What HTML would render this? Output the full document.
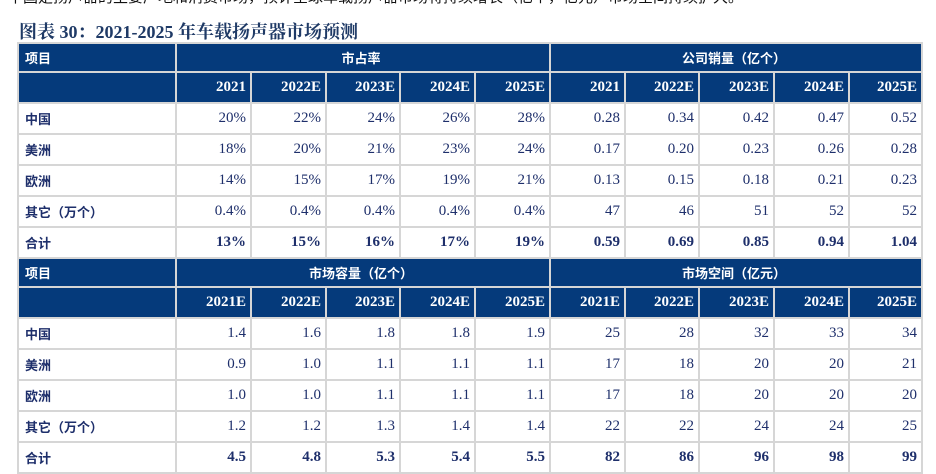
<!DOCTYPE html>
<html><head><meta charset="utf-8">
<style>
body{margin:0;width:936px;height:465px;overflow:hidden;background:#fff;position:relative;font-family:"Liberation Serif","Noto Serif CJK SC",serif;}
.top{position:absolute;left:8px;top:-14px;font-size:15px;color:#111;white-space:nowrap;font-family:"Liberation Sans","Noto Sans CJK SC",sans-serif;}
.title{position:absolute;left:19px;top:18px;font-size:18px;font-weight:bold;color:#1f3a66;white-space:nowrap;}
table{position:absolute;left:17px;top:42px;border-collapse:collapse;table-layout:fixed;}
td{border:2px solid #d6d6d6;padding:0 4px 0 0;text-align:right;font-size:15px;color:#1e2f6b;white-space:nowrap;overflow:hidden;}
tr{height:31px}
tr.h1{height:29px}
td.lab{text-align:left;padding-left:6px;font-family:"Liberation Sans","Noto Sans CJK SC",sans-serif;font-weight:bold;font-size:13px;}
tr.h1 td,tr.h2 td{background:#053a7b;color:#fff;font-weight:bold;}
tr.h1 td.c{text-align:center;font-family:"Liberation Sans","Noto Sans CJK SC",sans-serif;font-size:13px;}
tr.b td{font-weight:bold;}
</style></head><body>
<div class="top">中国是扬声器的主要产地和消费市场，预计全球车载扬声器市场将持续增长（亿个，亿元）市场空间持续扩大。</div>
<div class="title">图表 30：2021-2025 年车载扬声器市场预测</div>
<table>
<colgroup><col style="width:158px"><col style="width:75px"><col style="width:75px"><col style="width:74px"><col style="width:75px"><col style="width:75px"><col style="width:75px"><col style="width:74px"><col style="width:75px"><col style="width:75px"><col style="width:73px"></colgroup>
<tr class="h1"><td class="lab">项目</td><td class="c" colspan="5">市占率</td><td class="c" colspan="5">公司销量（亿个）</td></tr>
<tr class="h2"><td></td><td>2021</td><td>2022E</td><td>2023E</td><td>2024E</td><td>2025E</td><td>2021</td><td>2022E</td><td>2023E</td><td>2024E</td><td>2025E</td></tr>
<tr><td class="lab">中国</td><td>20%</td><td>22%</td><td>24%</td><td>26%</td><td>28%</td><td>0.28</td><td>0.34</td><td>0.42</td><td>0.47</td><td>0.52</td></tr>
<tr><td class="lab">美洲</td><td>18%</td><td>20%</td><td>21%</td><td>23%</td><td>24%</td><td>0.17</td><td>0.20</td><td>0.23</td><td>0.26</td><td>0.28</td></tr>
<tr><td class="lab">欧洲</td><td>14%</td><td>15%</td><td>17%</td><td>19%</td><td>21%</td><td>0.13</td><td>0.15</td><td>0.18</td><td>0.21</td><td>0.23</td></tr>
<tr><td class="lab">其它（万个）</td><td>0.4%</td><td>0.4%</td><td>0.4%</td><td>0.4%</td><td>0.4%</td><td>47</td><td>46</td><td>51</td><td>52</td><td>52</td></tr>
<tr class="b"><td class="lab">合计</td><td>13%</td><td>15%</td><td>16%</td><td>17%</td><td>19%</td><td>0.59</td><td>0.69</td><td>0.85</td><td>0.94</td><td>1.04</td></tr>
<tr class="h1"><td class="lab">项目</td><td class="c" colspan="5">市场容量（亿个）</td><td class="c" colspan="5">市场空间（亿元）</td></tr>
<tr class="h2"><td></td><td>2021E</td><td>2022E</td><td>2023E</td><td>2024E</td><td>2025E</td><td>2021E</td><td>2022E</td><td>2023E</td><td>2024E</td><td>2025E</td></tr>
<tr><td class="lab">中国</td><td>1.4</td><td>1.6</td><td>1.8</td><td>1.8</td><td>1.9</td><td>25</td><td>28</td><td>32</td><td>33</td><td>34</td></tr>
<tr><td class="lab">美洲</td><td>0.9</td><td>1.0</td><td>1.1</td><td>1.1</td><td>1.1</td><td>17</td><td>18</td><td>20</td><td>20</td><td>21</td></tr>
<tr><td class="lab">欧洲</td><td>1.0</td><td>1.0</td><td>1.1</td><td>1.1</td><td>1.1</td><td>17</td><td>18</td><td>20</td><td>20</td><td>20</td></tr>
<tr><td class="lab">其它（万个）</td><td>1.2</td><td>1.2</td><td>1.3</td><td>1.4</td><td>1.4</td><td>22</td><td>22</td><td>24</td><td>24</td><td>25</td></tr>
<tr class="b"><td class="lab">合计</td><td>4.5</td><td>4.8</td><td>5.3</td><td>5.4</td><td>5.5</td><td>82</td><td>86</td><td>96</td><td>98</td><td>99</td></tr>
</table>
</body></html>
